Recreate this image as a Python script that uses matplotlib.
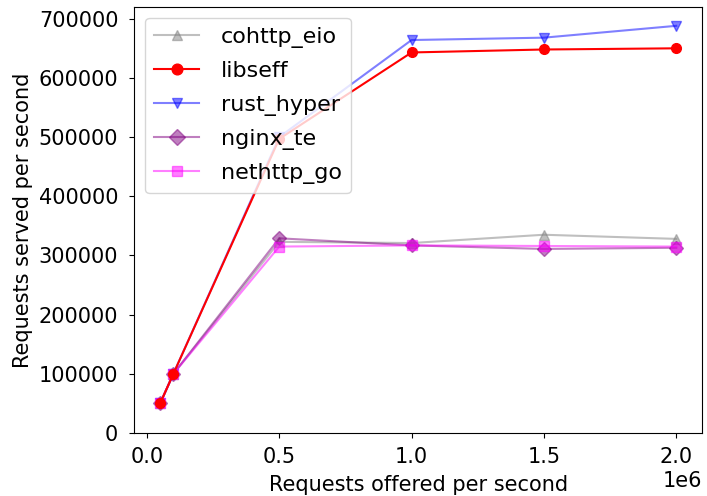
import matplotlib

matplotlib.use("Agg")

import matplotlib.pyplot as plt
from matplotlib.ticker import MultipleLocator

offered = [50000, 100000, 500000, 1000000, 1500000, 2000000]

cohttp_eio = [50000, 100000, 323000, 321000, 335000, 328000]
libseff = [50000, 100000, 497000, 643000, 648000, 650000]
rust_hyper = [50000, 100000, 500000, 664000, 668000, 688000]
nginx_te = [50000, 100000, 329000, 317000, 311000, 313000]
nethttp_go = [50000, 100000, 315000, 317000, 316000, 315000]

plt.rcParams["font.size"] = 15

fig = plt.figure(figsize=(7.07, 4.96), dpi=100)
ax = fig.add_axes([0.19, 0.127, 0.803, 0.859])

ax.plot(offered, cohttp_eio, color="gray", alpha=0.5, marker="^", ms=7, label="cohttp_eio")
ax.plot(offered, libseff, color="red", marker="o", ms=7, label="libseff", zorder=4)
ax.plot(offered, rust_hyper, color="blue", alpha=0.5, marker="v", ms=7, label="rust_hyper")
ax.plot(offered, nginx_te, color="purple", alpha=0.5, marker="D", ms=7, label="nginx_te")
ax.plot(offered, nethttp_go, color="magenta", alpha=0.5, marker="s", ms=7, label="nethttp_go")

ax.set_ylim(bottom=0)
ax.xaxis.set_major_locator(MultipleLocator(500000))
ax.tick_params(axis="x", pad=6.5)
ax.tick_params(axis="y", pad=8)
ax.set_xlabel("Requests offered per second", labelpad=6)
ax.set_ylabel("Requests served per second")
ax.legend(loc="upper left", fontsize=16, labelspacing=0.6, handletextpad=1.0, markerscale=1.1)

fig.savefig("out.png")
